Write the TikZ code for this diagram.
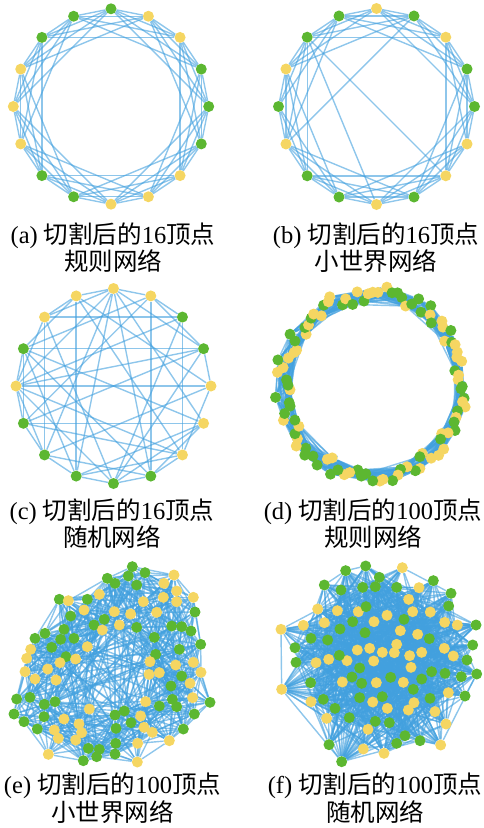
\documentclass[tikz,border=0pt]{standalone}
\usepackage{fontspec}
\setmainfont{Liberation Serif}
\newfontfamily\cjk{Noto Sans CJK SC}
\usetikzlibrary{backgrounds}
\definecolor{ng}{RGB}{92,183,49}
\definecolor{ny}{RGB}{245,214,98}
\definecolor{eb}{RGB}{66,160,222}
\newcommand\zh[1]{{\cjk #1}}

\begin{document}
\begin{tikzpicture}[x=1pt,y=-1pt,
  dot/.style={circle,inner sep=0pt,minimum size=11pt},
  edge/.style={eb,line width=1.4pt,opacity=0.6},
  captext/.style={anchor=base,inner sep=0pt,font=\fontsize{24.5}{28}\selectfont}]
  \useasboundingbox (0,0) rectangle (483,828);

  \begin{scope}[shift={(111,106.5)}]
    \foreach \c [count=\i from 0] in {g,y,y,g,g,g,y,y,y,g,g,y,y,y,g,g}
      \node[dot,fill=n\c] (a\i) at ({-90+22.5*\i}:97.7) {};
  \end{scope}
  \begin{scope}[shift={(376.5,106.5)}]
    \foreach \c [count=\i from 0] in {y,g,y,g,g,y,y,g,y,g,g,y,g,y,g,g}
      \node[dot,fill=n\c] (b\i) at ({-90+22.5*\i}:98) {};
  \end{scope}
  \begin{scope}[shift={(113.5,386)}]
    \foreach \c [count=\i from 0] in {y,y,g,g,y,y,y,g,g,g,g,g,y,g,y,y}
      \node[dot,fill=n\c] (c\i) at ({-90+22.5*\i}:97.5) {};
  \end{scope}
  \pgfmathsetseed{7}
  \begin{scope}[shift={(373,385)}]
    \foreach \i in {0,...,99} {
      \pgfmathsetmacro\ang{-90+3.6*\i+1.2*rand}
      \pgfmathsetmacro\rad{91+8*rand}
      \pgfmathtruncatemacro\col{random(0,1)}
      \ifnum\col=0 \def\cl{ng}\else\def\cl{ny}\fi
      \node[dot,fill=\cl] (d\i) at (\ang:\rad) {};
    }
  \end{scope}

  \foreach \x/\y/\c [count=\i] in {397/50/g, 435/68/g, 522/75/y, 322/85/g, 385/78/g, 345/100/g, 410/105/g,
    492/100/y, 530/123/y, 580/142/y, 178/148/g, 205/152/y, 262/148/g, 298/133/y, 430/155/y, 490/142/y,
    530/155/y, 585/186/g, 252/180/y, 343/185/y, 392/192/y, 470/187/y, 212/198/g, 313/208/g, 282/225/g,
    307/240/y, 358/225/y, 410/232/g, 515/228/g, 545/230/g, 573/243/g, 135/250/g, 192/238/g, 105/265/g,
    182/268/g, 222/265/g, 262/290/y, 463/262/g, 602/283/g, 92/298/y, 155/292/g, 538/298/g, 80/325/y,
    198/320/g, 227/327/y, 467/313/g, 580/337/y, 180/338/y, 450/335/y, 527/345/y, 75/365/y, 143/357/y,
    478/368/y, 447/373/y, 603/367/y, 105/387/y, 168/390/y, 545/378/g, 570/400/y, 513/408/g, 50/447/g,
    90/442/g, 578/443/y, 133/463/g, 165/455/g, 437/455/y, 478/468/g, 517/448/g, 530/470/g, 630/457/g,
    42/492/g, 268/477/y, 345/495/g, 373/483/g, 422/498/y, 583/492/g, 72/515/g, 132/500/g, 192/507/y,
    237/522/y, 393/518/g, 348/535/g, 432/532/y, 457/547/y, 550/537/g, 112/537/g, 163/540/y, 245/548/y,
    175/565/y, 227/570/y, 265/595/g, 298/598/g, 347/580/g, 413/580/y, 508/572/y, 145/613/y, 250/632/g,
    290/620/g, 345/612/g, 412/636/y} {
    \node[dot,fill=n\c] (e\i) at ({\x/3},{550+\y/3}) {};
    \expandafter\xdef\csname ex\i\endcsname{\x}
    \expandafter\xdef\csname ey\i\endcsname{\y}
    \xdef\ecount{\i}
  }

  \foreach \x/\y/\c [count=\i] in {123/238/y, 125/418/y, 165/293/g, 168/337/g, 213/265/g, 190/226/y,
    233/177/y, 253/105/g, 317/62/g, 377/48/g, 487/53/y, 580/92/g, 633/130/g, 626/168/g, 708/225/g,
    698/285/g, 681/330/g, 710/372/g, 675/438/g, 618/522/y, 602/585/y, 540/572/g, 470/580/g, 432/610/y,
    370/597/y, 305/635/g, 267/584/g, 260/505/y, 213/455/y, 212/398/g, 228/338/y, 250/448/g, 285/475/g,
    328/503/g, 384/538/y, 406/514/g, 448/518/g, 495/557/g, 505/480/y, 520/418/g, 570/445/g, 585/485/y,
    625/428/y, 664/380/g, 640/318/y, 613/295/y, 615/370/g, 575/365/g, 545/307/y, 513/352/y, 509/317/y,
    545/387/g, 490/397/y, 452/382/g, 409/398/y, 365/400/g, 336/381/g, 307/396/y, 359/354/g, 321/332/y,
    298/316/g, 266/328/y, 263/270/g, 300/237/g, 338/215/g, 375/248/g, 402/215/y, 441/196/y, 355/185/y,
    378/170/g, 292/182/y, 253/218/y, 303/120/g, 368/112/g, 406/110/g, 418/82/g, 470/112/g, 537/113/y,
    506/148/y, 518/185/y, 571/186/y, 614/217/y, 652/225/y, 492/208/g, 481/242/y, 533/253/y, 568/266/g,
    470/283/y, 463/308/y, 427/307/y, 401/333/y, 389/295/y, 352/300/y, 442/475/y, 427/440/g, 398/456/y,
    359/443/g, 522/458/y} {
    \node[dot,fill=n\c] (f\i) at ({240+\x/3},{550+\y/3}) {};
    \xdef\fcount{\i}
  }

  \begin{pgfonlayer}{background}
    \foreach \i in {0,...,15} \foreach \k in {1,...,4} {
      \pgfmathtruncatemacro\j{mod(\i+\k,16)}
      \draw[edge] (a\i) -- (a\j);
    }
    \foreach \i in {0,...,15} \foreach \k in {1,...,3} {
      \pgfmathtruncatemacro\j{mod(\i+\k,16)}
      \draw[edge] (b\i) -- (b\j);
    }
    \foreach \i/\j in {0/4,2/6,3/7,4/8,5/9,6/10,7/11,9/13,10/14,11/15,13/1,14/2,15/3,14/6,14/8,1/11}
      \draw[edge] (b\i) -- (b\j);
    \foreach \i/\j in {0/1,0/15,0/14,0/12,0/10,0/9,0/7,0/5,0/3,1/7,1/3,1/13,1/11,1/2,2/14,2/6,2/12,2/8,
      3/4,3/11,3/13,3/8,4/12,4/10,4/15,4/6,5/11,5/7,5/13,5/9,5/8,6/12,6/7,6/9,6/11,7/8,7/13,7/10,
      8/9,8/12,8/14,9/15,9/10,9/13,10/11,10/12,10/14,11/12,11/13,12/13,12/14,12/3,13/15,14/15,15/6}
      \draw[edge] (c\i) -- (c\j);
    \foreach \i in {0,...,99} \foreach \k in {1,...,10} {
      \pgfmathtruncatemacro\j{mod(\i+\k,100)}
      \draw[edge] (d\i) -- (d\j);
    }
    \pgfmathsetseed{11}
    \pgfmathtruncatemacro\elast{\ecount-1}
    \foreach \i in {1,...,\elast} {
      \pgfmathtruncatemacro\ii{\i+1}
      \foreach \j in {\ii,...,\ecount} {
        \edef\xa{\csname ex\i\endcsname}\edef\ya{\csname ey\i\endcsname}
        \edef\xb{\csname ex\j\endcsname}\edef\yb{\csname ey\j\endcsname}
        \pgfmathtruncatemacro\ok{or(veclen(\xa-\xb,\ya-\yb)<145,rnd<0.04)}
        \ifnum\ok=1 \draw[edge] (e\i) -- (e\j); \fi
      }
    }
    \pgfmathsetseed{23}
    \pgfmathtruncatemacro\flast{\fcount-1}
    \foreach \i in {1,...,\flast} {
      \pgfmathtruncatemacro\ii{\i+1}
      \foreach \j in {\ii,...,\fcount} {
        \pgfmathtruncatemacro\ok{rnd<0.22}
        \ifnum\ok=1 \draw[edge] (f\i) -- (f\j); \fi
      }
    }
  \end{pgfonlayer}

  \node[captext] (capa1) at (113,243) {(a) \zh{切割后的}16\zh{顶点}};
  \node[captext] (capa2) at (113,270.5) {\zh{规则网络}};
  \node[captext] (capb1) at (376,243) {(b) \zh{切割后的}16\zh{顶点}};
  \node[captext] (capb2) at (376,270.5) {\zh{小世界网络}};
  \node[captext] (capc1) at (112,519) {(c) \zh{切割后的}16\zh{顶点}};
  \node[captext] (capc2) at (112,546.5) {\zh{随机网络}};
  \node[captext] (capd1) at (373,519) {(d) \zh{切割后的}100\zh{顶点}};
  \node[captext] (capd2) at (373,546.5) {\zh{规则网络}};
  \node[captext] (cape1) at (112.5,793) {(e) \zh{切割后的}100\zh{顶点}};
  \node[captext] (cape2) at (112.5,821) {\zh{小世界网络}};
  \node[captext] (capf1) at (375,793) {(f) \zh{切割后的}100\zh{顶点}};
  \node[captext] (capf2) at (375,821) {\zh{随机网络}};
\end{tikzpicture}
\end{document}
